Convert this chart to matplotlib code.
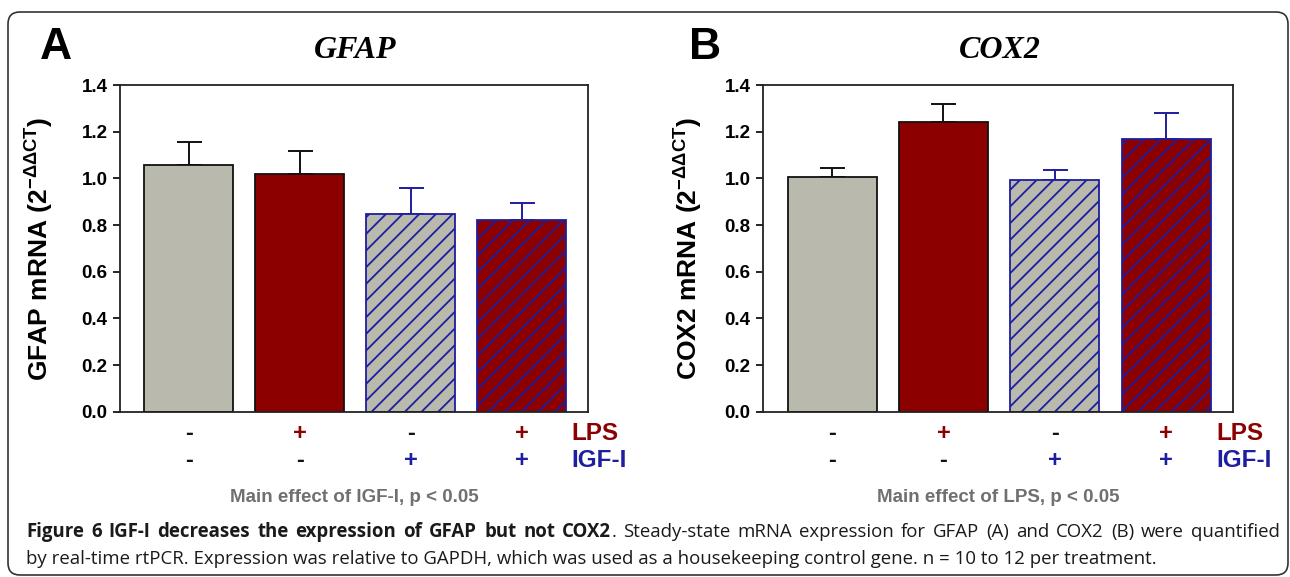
import matplotlib
matplotlib.use('Agg')
import matplotlib.pyplot as plt
from matplotlib.patches import FancyBboxPatch
import numpy as np

# ---------------- data ----------------
groups = ['ctrl', 'LPS', 'IGF-I', 'LPS+IGF-I']
lps_signs = ['-', '+', '-', '+']
igf_signs = ['-', '-', '+', '+']

gfap_mean = [1.057, 1.018, 0.846, 0.821]
gfap_err = [0.100, 0.098, 0.114, 0.072]
cox2_mean = [1.006, 1.243, 0.993, 1.167]
cox2_err = [0.039, 0.074, 0.044, 0.113]

yticks = [0.0, 0.2, 0.4, 0.6, 0.8, 1.0, 1.2, 1.4]

caption_bold = 'Figure 6 IGF-I decreases the expression of GFAP but not COX2'
caption_rest1 = '. Steady-state mRNA expression for GFAP (A) and COX2 (B) were quantified'
caption_line2 = ('by real-time rtPCR. Expression was relative to GAPDH, which was used as a '
	'housekeeping control gene. n = 10 to 12 per treatment.')

GRAY = '#b9b9ad'
RED = '#8c0000'
BLUE = '#1e1ea0'
BLACK = '#111111'

face = [GRAY, RED, GRAY, RED]
edge = [BLACK, BLACK, BLUE, BLUE]
hatch = [None, None, '//', '//']
sign_col_lps = [BLACK, RED, BLACK, RED]
sign_col_igf = [BLACK, BLACK, BLUE, BLUE]

plt.rcParams['font.family'] = ['Liberation Sans', 'DejaVu Sans']
plt.rcParams['font.weight'] = 'bold'
plt.rcParams['hatch.linewidth'] = 1.3
plt.rcParams['mathtext.fontset'] = 'custom'
plt.rcParams['mathtext.rm'] = 'Liberation Sans:bold'
plt.rcParams['mathtext.bf'] = 'Liberation Sans:bold'


def panel(ax, means, errs, ylabel, effect, label_x):
	x = np.arange(len(means))
	for i in range(len(means)):
		ax.bar(x[i], means[i], width=0.8, color=face[i], edgecolor=edge[i],
			linewidth=1.3, hatch=hatch[i], zorder=2)
		ax.errorbar(x[i], means[i], yerr=[[0], [errs[i]]], fmt='none',
			ecolor=edge[i], elinewidth=1.4, capsize=9, capthick=1.4, zorder=1)
	ax.set_xlim(-0.62, 3.6)
	ax.set_ylim(0, 1.4)
	ax.set_yticks(yticks)
	ax.set_yticklabels(['%.1f' % t for t in yticks], fontsize=13.5, fontweight='bold')
	ax.set_xticks([])
	ax.tick_params(axis='y', direction='out', length=5, width=1.2, pad=4)
	for s in ax.spines.values():
		s.set_linewidth(1.3)
		s.set_color('#222222')
	ax.set_ylabel(ylabel, fontsize=19, fontweight='bold')
	ax.yaxis.set_label_coords(label_x, 0.5)

	# treatment rows under the bars
	for i in range(len(means)):
		ax.text(x[i], -0.068, lps_signs[i], transform=ax.get_xaxis_transform(),
			ha='center', va='center', fontsize=17, fontweight='bold',
			color=sign_col_lps[i], clip_on=False)
		ax.text(x[i], -0.150, igf_signs[i], transform=ax.get_xaxis_transform(),
			ha='center', va='center', fontsize=17, fontweight='bold',
			color=sign_col_igf[i], clip_on=False)
	ax.text(3.45, -0.068, 'LPS', transform=ax.get_xaxis_transform(),
		ha='left', va='center', fontsize=17.5, fontweight='bold', color=RED)
	ax.text(3.45, -0.150, 'IGF-I', transform=ax.get_xaxis_transform(),
		ha='left', va='center', fontsize=17.5, fontweight='bold', color=BLUE)
	ax.text(0.5, -0.262, effect, transform=ax.transAxes, ha='center', va='center',
		fontsize=13.5, fontweight='bold', color='#707070')


def justified_line(fig, tokens, x0, x1, y, **kw):
	# tokens: (word, weight, gap_before)
	r = fig.canvas.get_renderer()
	arts = []
	for w, wt, gap in tokens:
		t = fig.text(0, y, w, fontweight=wt, va='baseline', transform=None, **kw)
		arts.append((t, t.get_window_extent(r).width, gap))
	total = sum(a[1] for a in arts)
	ngaps = sum(1 for a in arts[1:] if a[2])
	gap_w = (x1 - x0 - total) / max(ngaps, 1)
	x = x0
	for k, (t, wdt, gap) in enumerate(arts):
		if k > 0 and gap:
			x += gap_w
		t.set_x(x)
		x += wdt


def main():
	fig = plt.figure(figsize=(12.9, 5.77), dpi=100, facecolor='w')

	# rounded frame
	box = FancyBboxPatch((0.08, 0.02), 12.8, 5.63,
		boxstyle='round,pad=0,rounding_size=0.12',
		transform=fig.dpi_scale_trans, facecolor='none',
		edgecolor='#333333', linewidth=1.2)
	fig.patches.append(box)

	axA = fig.add_axes([0.093, 0.2865, 0.363, 0.566])
	axB = fig.add_axes([0.5915, 0.2865, 0.3643, 0.566])

	panel(axA, gfap_mean, gfap_err, 'GFAP mRNA (2$^{\\mathregular{-\\Delta\\Delta CT}}$)',
		'Main effect of IGF-I, p < 0.05', -0.139)
	panel(axB, cox2_mean, cox2_err, 'COX2 mRNA (2$^{\\mathregular{-\\Delta\\Delta CT}}$)',
		'Main effect of LPS, p < 0.05', -0.126)

	# panel letters and titles
	fig.text(40 / 1290, 1 - 59 / 577, 'A', fontsize=32, fontweight='bold', va='baseline')
	fig.text(689 / 1290, 1 - 59 / 577, 'B', fontsize=32, fontweight='bold', va='baseline')
	fig.text(355 / 1290, 1 - 50 / 577, 'GFAP', fontsize=23, fontweight='bold',
		style='italic', family='Liberation Serif', ha='center', va='center')
	fig.text(1000 / 1290, 1 - 50 / 577, 'COX2', fontsize=23, fontweight='bold',
		style='italic', family='Liberation Serif', ha='center', va='center')

	# caption (first line justified)
	cap_kw = dict(fontsize=13.4, family=['Open Sans', 'DejaVu Sans'], color='#1a1a1a')
	tokens = [(w, 'bold', True) for w in caption_bold.split()]
	rest = caption_rest1.split()
	tokens.append((rest[0], 'normal', False))
	tokens += [(w, 'normal', True) for w in rest[1:]]
	justified_line(fig, tokens, 26, 1280, 577 - 537, **cap_kw)
	fig.text(26 / 1290, 1 - 564 / 577, caption_line2, fontweight='normal',
		va='baseline', **cap_kw)

	fig.savefig('out.png', dpi=100)


if __name__ == '__main__':
	main()
